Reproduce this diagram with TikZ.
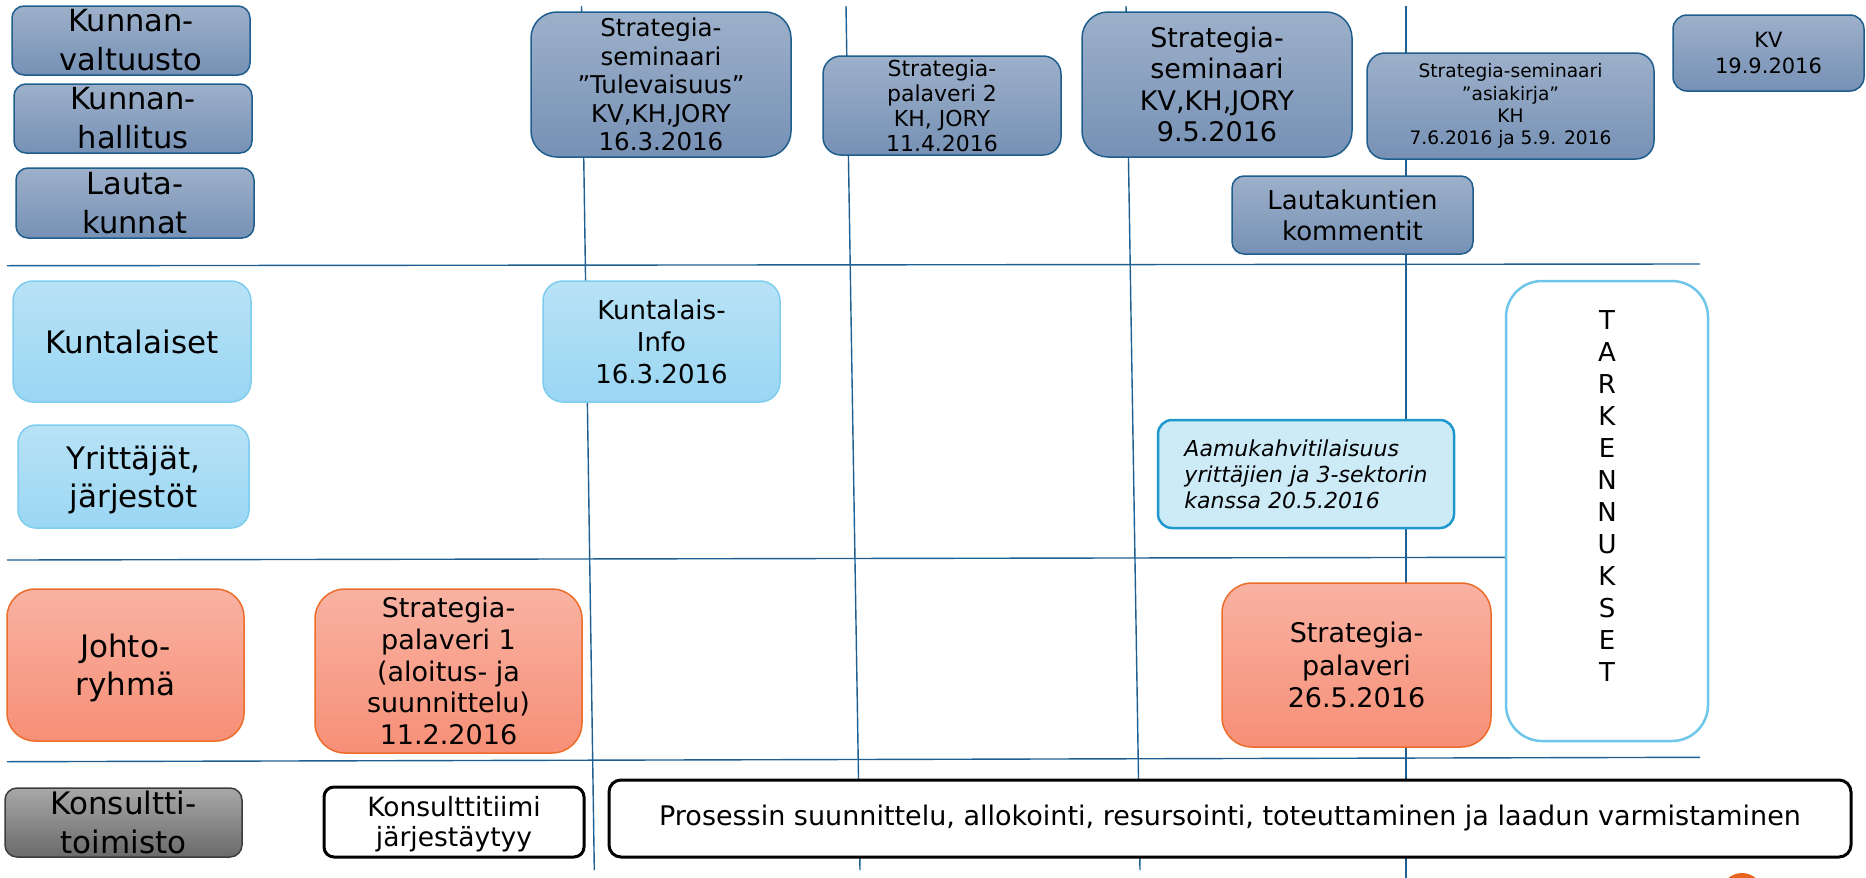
\documentclass[tikz,border=0pt]{standalone}
\usepackage{fontspec}
\setmainfont{DejaVu Sans}
\definecolor{dtop}{HTML}{9DB0CA}
\definecolor{dbot}{HTML}{7691B5}
\definecolor{bordd}{HTML}{1F5D8C}
\definecolor{ltop}{HTML}{B8E2F6}
\definecolor{lbot}{HTML}{9AD6F3}
\definecolor{bordl}{HTML}{7ECDEE}
\definecolor{saltop}{HTML}{F8B2A2}
\definecolor{salbot}{HTML}{F78F77}
\definecolor{bords}{HTML}{EC6C2A}
\definecolor{gtop}{HTML}{A8A8A8}
\definecolor{gbot}{HTML}{6A6A6A}
\definecolor{bordg}{HTML}{3C3C3C}
\definecolor{aamufill}{HTML}{CDEAF7}
\definecolor{aamubord}{HTML}{1E98CC}
\definecolor{tarkbord}{HTML}{6EC6EA}
\definecolor{gridc}{HTML}{1F5F91}
\definecolor{orangec}{HTML}{E8651F}
\newcommand{\fs}[2]{\fontsize{#1}{#2}\selectfont}
\newcommand{\bx}[7]{\node[#2, minimum width=#5pt-#3pt, minimum height=#6pt-#4pt] (#1) at ({(#3+#5)/2},{(#4+#6)/2}) {#7};}
\tikzset{
  base/.style={rectangle, inner sep=0pt, outer sep=0pt, align=center, line width=1.5pt},
  dark/.style={base, draw=bordd, top color=dtop, bottom color=dbot},
  light/.style={base, draw=bordl, top color=ltop, bottom color=lbot},
  salmon/.style={base, draw=bords, top color=saltop, bottom color=salbot},
  grayb/.style={base, draw=bordg, top color=gtop, bottom color=gbot},
  wbox/.style={base, draw=black, fill=white, line width=3pt},
  aamubox/.style={base, draw=aamubord, fill=aamufill, line width=2.5pt, align=left},
  tarkbox/.style={base, draw=tarkbord, fill=white, line width=2.5pt},
  grid/.style={draw=gridc, line width=1.4pt},
  lbl/.style={font=\fs{30.5}{39}},
}
\begin{document}
\begin{tikzpicture}[x=1pt,y=-1pt]
\useasboundingbox (0,0) rectangle (1866,878);
% grid line end points
\coordinate (h1a) at (7,265.7);   \coordinate (h1b) at (1700,264);
\coordinate (h2a) at (7,560);     \coordinate (h2b) at (1506,557.3);
\coordinate (h3a) at (7,761.7);   \coordinate (h3b) at (1700,757.3);
\coordinate (v1a) at (581.5,6);   \coordinate (v1b) at (594.3,870);
\coordinate (v2a) at (846,6);     \coordinate (v2b) at (860,870);
\coordinate (v3a) at (1126,6);    \coordinate (v3b) at (1140,870);
\coordinate (v4a) at (1406,6);    \coordinate (v4b) at (1406,878);
\draw[grid] (h1a) -- (h1b);
\draw[grid] (h2a) -- (h2b);
\draw[grid] (h3a) -- (h3b);
\draw[grid] (v1a) -- (v1b);
\draw[grid] (v2a) -- (v2b);
\draw[grid] (v3a) -- (v3b);
\draw[grid] (v4a) -- (v4b);
% left column
\bx{kv}{dark, lbl, rounded corners=12pt}{12}{6}{250}{75}{Kunnan-\\valtuusto}
\bx{kh}{dark, lbl, rounded corners=12pt}{14}{84}{252}{153}{Kunnan-\\hallitus}
\bx{lk}{dark, lbl, rounded corners=12pt}{16}{168}{254}{238}{Lauta-\\kunnat}
\bx{kunt}{light, font=\fs{31}{38.3}, rounded corners=20pt}{13}{281}{251}{402}{Kuntalaiset}
\bx{yrit}{light, font=\fs{31}{38.3}, rounded corners=18pt, text depth=-0.7pt}{18}{425}{249}{528}{Yrittäjät,\\järjestöt}
\bx{johto}{salmon, font=\fs{31}{38.3}, rounded corners=28pt, text depth=-0.7pt}{7}{589}{244}{741}{Johto-\\ryhmä}
\bx{kons}{grayb, font=\fs{31}{38.3}, rounded corners=12pt}{5}{788}{242}{857}{Konsultti-\\toimisto}
% events
\bx{sp1}{salmon, font=\fs{27}{31.7}, rounded corners=30pt}{315}{589}{582}{753}{Strategia-\\palaveri 1\\(aloitus- ja\\suunnittelu)\\11.2.2016}
\bx{ktiimi}{wbox, font=\fs{26.5}{30}, rounded corners=10pt, text depth=0.3pt}{324}{787}{584}{857}{Konsulttitiimi\\järjestäytyy}
\bx{ss1}{dark, font=\fs{24.5}{28.5}, rounded corners=26pt}{531}{12}{791}{157}{Strategia-\\seminaari\\”Tulevaisuus”\\KV,KH,JORY\\16.3.2016}
\bx{kinfo}{light, font=\fs{26}{32}, rounded corners=20pt}{543}{281}{780}{402}{Kuntalais-\\Info\\16.3.2016}
\bx{proc}{wbox, font=\fs{27}{32}, rounded corners=12pt}{609}{780}{1851}{857}{Prosessin suunnittelu, allokointi, resursointi, toteuttaminen ja laadun varmistaminen}
\bx{sp2}{dark, font=\fs{22}{25}, rounded corners=18pt}{823}{56}{1061}{155}{Strategia-\\palaveri 2\\KH, JORY\\11.4.2016}
\bx{ss2}{dark, font=\fs{27}{31.5}, rounded corners=26pt}{1082}{12}{1352}{157}{Strategia-\\seminaari\\KV,KH,JORY\\9.5.2016}
\bx{ssa}{dark, font=\fs{18.6}{22.2}, rounded corners=18pt}{1367}{53}{1654}{159}{Strategia-seminaari\\”asiakirja”\\KH\\7.6.2016 ja 5.9. 2016}
\bx{kvd}{dark, font=\fs{21}{25.6}, rounded corners=14pt, text depth=-8pt}{1673}{15}{1864}{91}{KV\\19.9.2016}
\bx{lkk}{dark, font=\fs{26}{30.7}, rounded corners=12pt}{1232}{176}{1473}{254}{Lautakuntien\\kommentit}
\bx{aamu}{aamubox, font=\fs{22}{26}\itshape, rounded corners=14pt}{1158}{420}{1454}{528}{Aamukahvitilaisuus\\yrittäjien ja 3-sektorin\\kanssa 20.5.2016}
\bx{sp3}{salmon, font=\fs{27}{32.5}, rounded corners=30pt}{1222}{583}{1491}{747}{Strategia-\\palaveri\\26.5.2016}
\bx{tark}{tarkbox, font=\fs{26}{32}, rounded corners=36pt, text depth=29pt}{1506}{281}{1708}{741}{T\\A\\R\\K\\E\\N\\N\\U\\K\\S\\E\\T}
% orange mark at the bottom edge
\begin{scope}
\clip (0,0) rectangle (1866,878);
\fill[orangec] (1742,894) circle[radius=21pt];
\end{scope}
\end{tikzpicture}
\end{document}
